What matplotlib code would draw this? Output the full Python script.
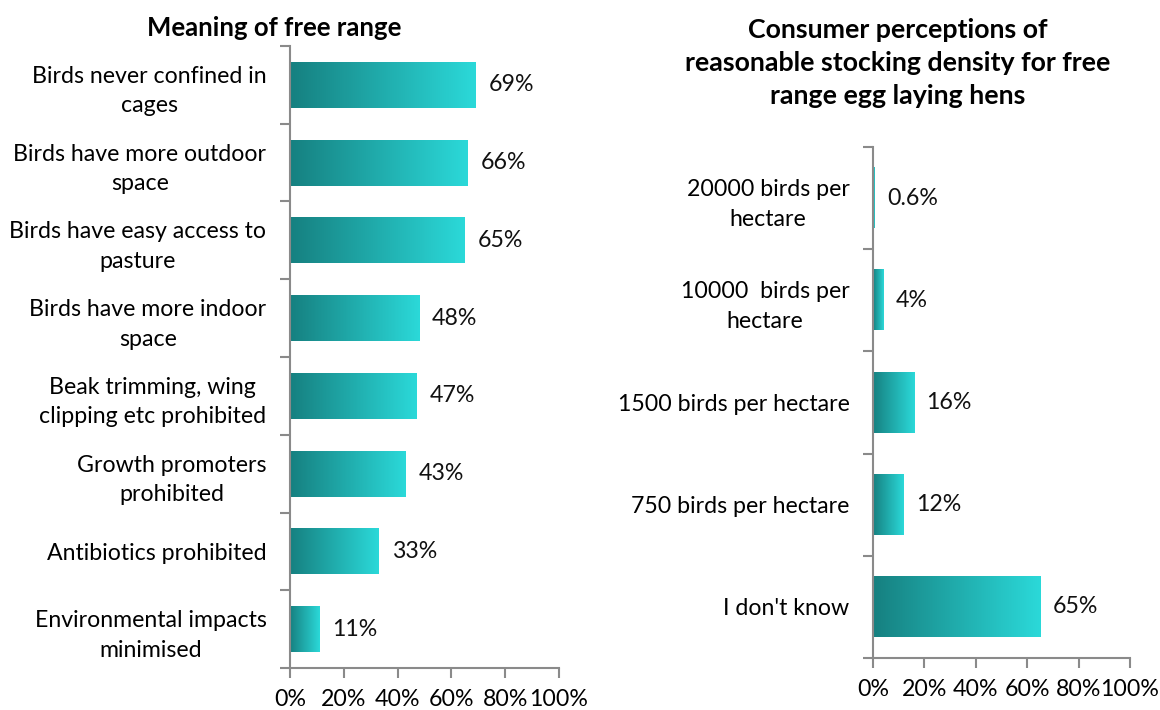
import matplotlib
matplotlib.use("Agg")
import matplotlib.pyplot as plt
import numpy as np
from matplotlib.colors import LinearSegmentedColormap

plt.rcParams['font.family'] = ['Lato', 'DejaVu Sans']

left_title = "Meaning of free range"
left_cats = [
    "Birds never confined in\ncages",
    "Birds have more outdoor\nspace",
    "Birds have easy access to\npasture",
    "Birds have more indoor\nspace",
    "Beak trimming, wing\nclipping etc prohibited",
    "Growth promoters\nprohibited",
    "Antibiotics prohibited",
    "Environmental impacts\nminimised",
]
left_vals = [69, 66, 65, 48, 47, 43, 33, 11]

right_title = "Consumer perceptions of\nreasonable stocking density for free\nrange egg laying hens"
right_cats = [
    "20000 birds per\nhectare",
    "10000  birds per\nhectare",
    "1500 birds per hectare",
    "750 birds per hectare",
    "I don't know",
]
right_vals = [0.6, 4, 16, 12, 65]

xticks = [0, 20, 40, 60, 80, 100]

cmap = LinearSegmentedColormap.from_list("teal", ["#168080", "#2BD9D9"])
spine_col = "#8a8a8a"
FS = 16.7

fig = plt.figure(figsize=(11.6, 7.1), dpi=100)


def panel(rect, cats, vals):
    ax = fig.add_axes(rect)
    n = len(cats)
    y = np.arange(n)
    bars = ax.barh(y, vals, height=0.59, color="none", edgecolor="none")
    grad = np.linspace(0, 1, 256).reshape(1, -1)
    for b, v in zip(bars, vals):
        x0, y0 = b.get_x(), b.get_y()
        w, h = b.get_width(), b.get_height()
        ax.imshow(grad, extent=[x0, x0 + w, y0, y0 + h], aspect="auto",
                  cmap=cmap, interpolation="bilinear", zorder=2)
        ax.text(v + 4.8, b.get_y() + h / 2, f"{v:g}%", va="center", ha="left",
                fontsize=FS, color="#111111")
    ax.set_xlim(0, 100)
    ax.set_ylim(n - 0.5, -0.5)
    ax.set_xticks(xticks)
    ax.set_xticklabels([f"{t}%" for t in xticks], fontsize=FS)
    ax.set_yticks(y)
    ax.set_yticklabels(cats, fontsize=FS, multialignment="center",
                       linespacing=1.5)
    ax.set_yticks(np.arange(n + 1) - 0.5, minor=True)
    ax.tick_params(axis="y", which="major", length=0, pad=17)
    ax.tick_params(axis="y", which="minor", length=7, width=1.5, color=spine_col)
    ax.tick_params(axis="x", length=7, width=1.5, color=spine_col, pad=8)
    for s in ["top", "right"]:
        ax.spines[s].set_visible(False)
    for s in ["left", "bottom"]:
        ax.spines[s].set_color(spine_col)
        ax.spines[s].set_linewidth(1.5)
    return ax


axL = panel([290 / 1160, 1 - 668 / 710, 269 / 1160, 622 / 710],
            left_cats, left_vals)
axR = panel([873 / 1160, 1 - 658 / 710, 257 / 1160, 511 / 710],
            right_cats, right_vals)

fig.text(274 / 1160, 1 - 28 / 710, left_title, ha="center", va="center",
         fontsize=18.5, fontweight="bold")
fig.text(898 / 1160, 1 - 63 / 710, right_title, ha="center", va="center",
         fontsize=19.3, fontweight="bold", linespacing=1.45)

fig.savefig("out.png", dpi=100, facecolor="white")
